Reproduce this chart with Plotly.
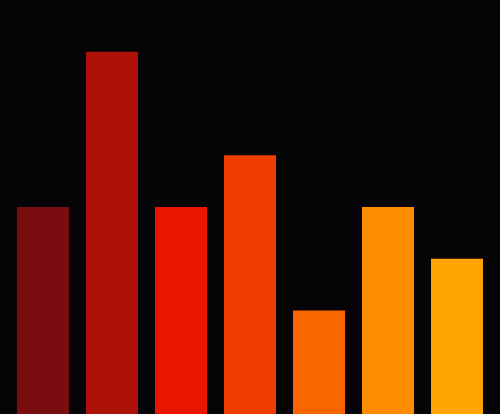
import plotly.graph_objects as go

categories = ["A", "B", "C", "D", "E", "F", "G"]
values = [4, 7, 4, 5, 2, 4, 3]
colors = ["#7a0d10", "#ab1106", "#e81500", "#f13c00", "#f96500", "#ff8c00", "#ffa400"]

bg = "#050508"

fig = go.Figure(
    go.Bar(
        x=list(range(len(categories))),
        y=values,
        marker=dict(color=colors, line=dict(width=0)),
        hoverinfo="skip",
    )
)

fig.update_layout(
    width=500,
    height=414,
    margin=dict(l=0, r=0, t=0, b=0),
    paper_bgcolor=bg,
    plot_bgcolor=bg,
    bargap=0.246,
    showlegend=False,
)
fig.update_xaxes(visible=False, range=[-0.623, 6.623])
fig.update_yaxes(visible=False, range=[0, 8])

# page has no margin so the chart fills the window
page_js = (
    "document.body.style.margin='0';"
    "document.body.style.background='" + bg + "';"
    "document.body.style.overflow='hidden';"
)

fig.write_html("out.html", post_script=page_js, config={"displayModeBar": False})
